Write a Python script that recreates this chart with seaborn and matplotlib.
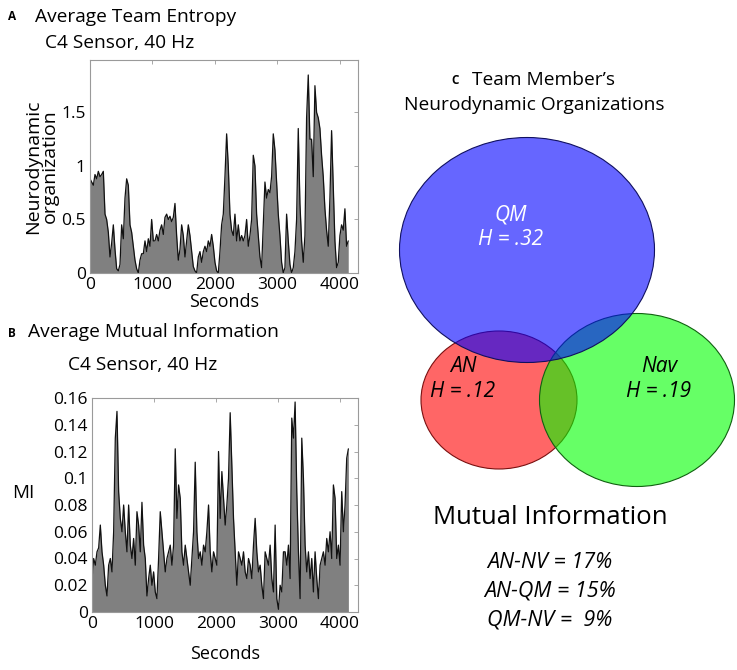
import numpy as np
import pandas as pd
import matplotlib
matplotlib.use("Agg")
import matplotlib.pyplot as plt
from matplotlib.patches import Ellipse
import seaborn as sns

# Panel A: average team entropy (C4 sensor, 40 Hz), sampled every ~26.7 s
entropy_step = 26.67
entropy_vals = [
    0.88, 0.85, 0.82, 0.92, 0.88, 0.95, 0.90, 0.92, 0.95, 0.55,
    0.50, 0.38, 0.15, 0.28, 0.45, 0.22, 0.04, 0.02, 0.08, 0.45,
    0.32, 0.70, 0.88, 0.82, 0.45, 0.38, 0.25, 0.12, 0.04, 0.00,
    0.12, 0.18, 0.18, 0.30, 0.20, 0.32, 0.25, 0.50, 0.30, 0.30,
    0.36, 0.30, 0.40, 0.45, 0.36, 0.52, 0.55, 0.50, 0.53, 0.48,
    0.52, 0.65, 0.35, 0.12, 0.22, 0.45, 0.35, 0.15, 0.30, 0.45,
    0.35, 0.20, 0.06, 0.02, 0.00, 0.15, 0.20, 0.10, 0.20, 0.25,
    0.20, 0.30, 0.25, 0.36, 0.25, 0.10, 0.02, 0.00, 0.20, 0.45,
    0.55, 0.90, 1.30, 1.00, 0.55, 0.40, 0.35, 0.55, 0.30, 0.45,
    0.30, 0.35, 0.30, 0.35, 0.50, 0.25, 0.35, 0.50, 1.10, 1.00,
    0.55, 0.35, 0.15, 0.05, 0.45, 0.85, 0.70, 0.78, 0.75, 0.90,
    1.30, 1.15, 0.85, 0.55, 0.35, 0.10, 0.00, 0.05, 0.55, 0.30,
    0.08, 0.00, 0.05, 0.20, 0.50, 1.35, 0.65, 0.30, 0.10, 0.35,
    1.45, 1.85, 1.25, 1.25, 0.90, 1.75, 1.50, 1.45, 1.35, 1.10,
    0.90, 0.60, 0.40, 0.25, 0.70, 1.33, 0.80, 0.30, 0.05, 0.10,
    0.35, 0.45, 0.40, 0.60, 0.25, 0.30,
]

# Panel B: average mutual information, sampled every ~26.9 s
mi_step = 26.85
mi_vals = [
    0.025, 0.040, 0.035, 0.045, 0.048, 0.065, 0.045, 0.035, 0.020, 0.012,
    0.035, 0.040, 0.030, 0.060, 0.130, 0.150, 0.090, 0.070, 0.060, 0.080,
    0.060, 0.045, 0.080, 0.050, 0.040, 0.055, 0.035, 0.075, 0.065, 0.045,
    0.082, 0.050, 0.040, 0.012, 0.025, 0.035, 0.020, 0.030, 0.015, 0.010,
    0.040, 0.075, 0.060, 0.045, 0.030, 0.040, 0.045, 0.050, 0.035, 0.050,
    0.122, 0.070, 0.095, 0.085, 0.045, 0.035, 0.050, 0.040, 0.030, 0.020,
    0.040, 0.060, 0.112, 0.060, 0.040, 0.045, 0.035, 0.050, 0.045, 0.060,
    0.080, 0.045, 0.030, 0.045, 0.040, 0.035, 0.120, 0.070, 0.105, 0.085,
    0.065, 0.080, 0.100, 0.149, 0.110, 0.070, 0.045, 0.020, 0.045, 0.040,
    0.035, 0.045, 0.030, 0.025, 0.040, 0.035, 0.025, 0.050, 0.070, 0.045,
    0.030, 0.035, 0.020, 0.010, 0.045, 0.040, 0.035, 0.050, 0.025, 0.015,
    0.065, 0.010, 0.002, 0.020, 0.015, 0.045, 0.045, 0.035, 0.050, 0.025,
    0.145, 0.130, 0.157, 0.090, 0.045, 0.010, 0.130, 0.100, 0.050, 0.030,
    0.045, 0.025, 0.040, 0.015, 0.045, 0.025, 0.010, 0.035, 0.040, 0.045,
    0.035, 0.055, 0.045, 0.060, 0.040, 0.095, 0.085, 0.040, 0.050, 0.035,
    0.090, 0.060, 0.080, 0.115, 0.122,
]

# Panel C: team members, entropies, mutual information
members = ["AN", "Nav", "QM"]
member_h = [".12", ".19", ".32"]
member_colors = ["#ff0000", "#00ff00", "#0000ff"]
member_edges = ["#7a1010", "#106010", "#101060"]
mi_pairs = ["AN-NV", "AN-QM", "QM-NV"]
mi_pct = ["17%", "15%", " 9%"]

df_a = pd.DataFrame({"sec": np.arange(len(entropy_vals)) * entropy_step, "val": entropy_vals})
df_b = pd.DataFrame({"sec": np.arange(len(mi_vals)) * mi_step, "val": mi_vals})

sns.set_theme(style="white")
plt.rcParams['font.family'] = ['Open Sans', 'DejaVu Sans']
plt.rcParams['text.color'] = 'black'
plt.rcParams['axes.labelcolor'] = 'black'
plt.rcParams['xtick.labelcolor'] = 'black'
plt.rcParams['ytick.labelcolor'] = 'black'

W, H = 737, 670
fig = plt.figure(figsize=(W / 100, H / 100), dpi=100)


def px_rect(l, t, r, b):
    return [l / W, 1 - b / H, (r - l) / W, (b - t) / H]


def style_ax(ax):
    for s in ax.spines.values():
        s.set_color("#9a9a9a")
        s.set_linewidth(0.8)
    ax.tick_params(direction="in", top=True, right=True, length=3, width=0.6,
                   color="#9a9a9a", labelsize=12.5, pad=3)


# Panel A
ax_a = fig.add_axes(px_rect(90, 60, 358, 273))
ax_a.fill_between(df_a["sec"], df_a["val"], color="#808080", lw=0)
sns.lineplot(data=df_a, x="sec", y="val", ax=ax_a, color="#111111", lw=0.9)
ax_a.set_xlim(0, 4290)
ax_a.set_ylim(0, 1.99)
ax_a.set_xticks([0, 1000, 2000, 3000, 4000])
ax_a.set_yticks([0, 0.5, 1, 1.5])
ax_a.set_yticklabels(["0", "0.5", "1", "1.5"])
ax_a.set_xlabel("Seconds", fontsize=13, labelpad=0)
ax_a.set_ylabel("Neurodynamic\norganization", fontsize=14, labelpad=2, linespacing=0.9)
style_ax(ax_a)

# Panel B
ax_b = fig.add_axes(px_rect(92, 398, 358, 612))
ax_b.fill_between(df_b["sec"], df_b["val"], color="#808080", lw=0)
sns.lineplot(data=df_b, x="sec", y="val", ax=ax_b, color="#111111", lw=0.9)
ax_b.set_xlim(0, 4290)
ax_b.set_ylim(0, 0.16)
ax_b.set_xticks([0, 1000, 2000, 3000, 4000])
ax_b.set_yticks([0, 0.02, 0.04, 0.06, 0.08, 0.1, 0.12, 0.14, 0.16])
ax_b.set_yticklabels(["0", "0.02", "0.04", "0.06", "0.08", "0.1", "0.12", "0.14", "0.16"])
ax_b.get_yticklabels()[0].set_fontsize(7)
ax_b.set_xlabel("Seconds", fontsize=13, labelpad=9)
ax_b.set_ylabel("MI", fontsize=13.5, rotation=0, ha="center", va="center")
ax_b.yaxis.set_label_coords(-0.26, 0.556)
style_ax(ax_b)

# Panel titles
fig.text(8 / W, 1 - 17 / H, "A", fontsize=8.5, fontweight="bold", va="center")
fig.text(35 / W, 1 - 17 / H, "Average Team Entropy", fontsize=13.8, va="center")
fig.text(45 / W, 1 - 43 / H, "C4 Sensor, 40 Hz", fontsize=13.8, va="center")
fig.text(8 / W, 1 - 333 / H, "B", fontsize=8.5, fontweight="bold", va="center")
fig.text(28 / W, 1 - 332 / H, "Average Mutual Information", fontsize=13.8, va="center")
fig.text(68 / W, 1 - 365 / H, "C4 Sensor, 40 Hz", fontsize=13.8, va="center")
fig.text(451 / W, 1 - 81 / H, "C", fontsize=8.5, fontweight="bold", va="center")
fig.text(472 / W, 1 - 80 / H, "Team Member\u2019s", fontsize=13.8, va="center")
fig.text(534 / W, 1 - 105 / H, "Neurodynamic Organizations", fontsize=13.8,
         va="center", ha="center")

# Panel C: overlapping member ellipses, drawn in pixel space
ax_c = fig.add_axes([0, 0, 1, 1], zorder=-1)
ax_c.set_xlim(0, W)
ax_c.set_ylim(H, 0)
ax_c.axis("off")

ell_layout = {
    "AN": ((499, 400), 156, 138),
    "Nav": ((637, 400), 195, 173),
    "QM": ((527, 250), 255, 225),
}
label_pos = {"AN": (463, 379), "Nav": (659, 379), "QM": (511, 227)}
for name, h, fc, ec in zip(members, member_h, member_colors, member_edges):
    (cx, cy), ew, eh = ell_layout[name]
    ax_c.add_patch(Ellipse((cx, cy), ew, eh, facecolor=fc, alpha=0.6,
                           edgecolor="none"))
    ax_c.add_patch(Ellipse((cx, cy), ew, eh, facecolor="none",
                           edgecolor=ec, lw=0.8))
    tx, ty = label_pos[name]
    ax_c.text(tx, ty, f"{name}\nH = {h}", ha="center", va="center",
              fontsize=15, style="italic", linespacing=1.2,
              color="white" if name == "QM" else "black")

ax_c.text(550, 518, "Mutual Information", ha="center", va="center", fontsize=18.5)
for i, (pair, pct) in enumerate(zip(mi_pairs, mi_pct)):
    ax_c.text(550, 562 + i * 29, f"{pair} = {pct}", ha="center", va="center",
              fontsize=15.5, style="italic")

fig.savefig("out.png", dpi=100)
